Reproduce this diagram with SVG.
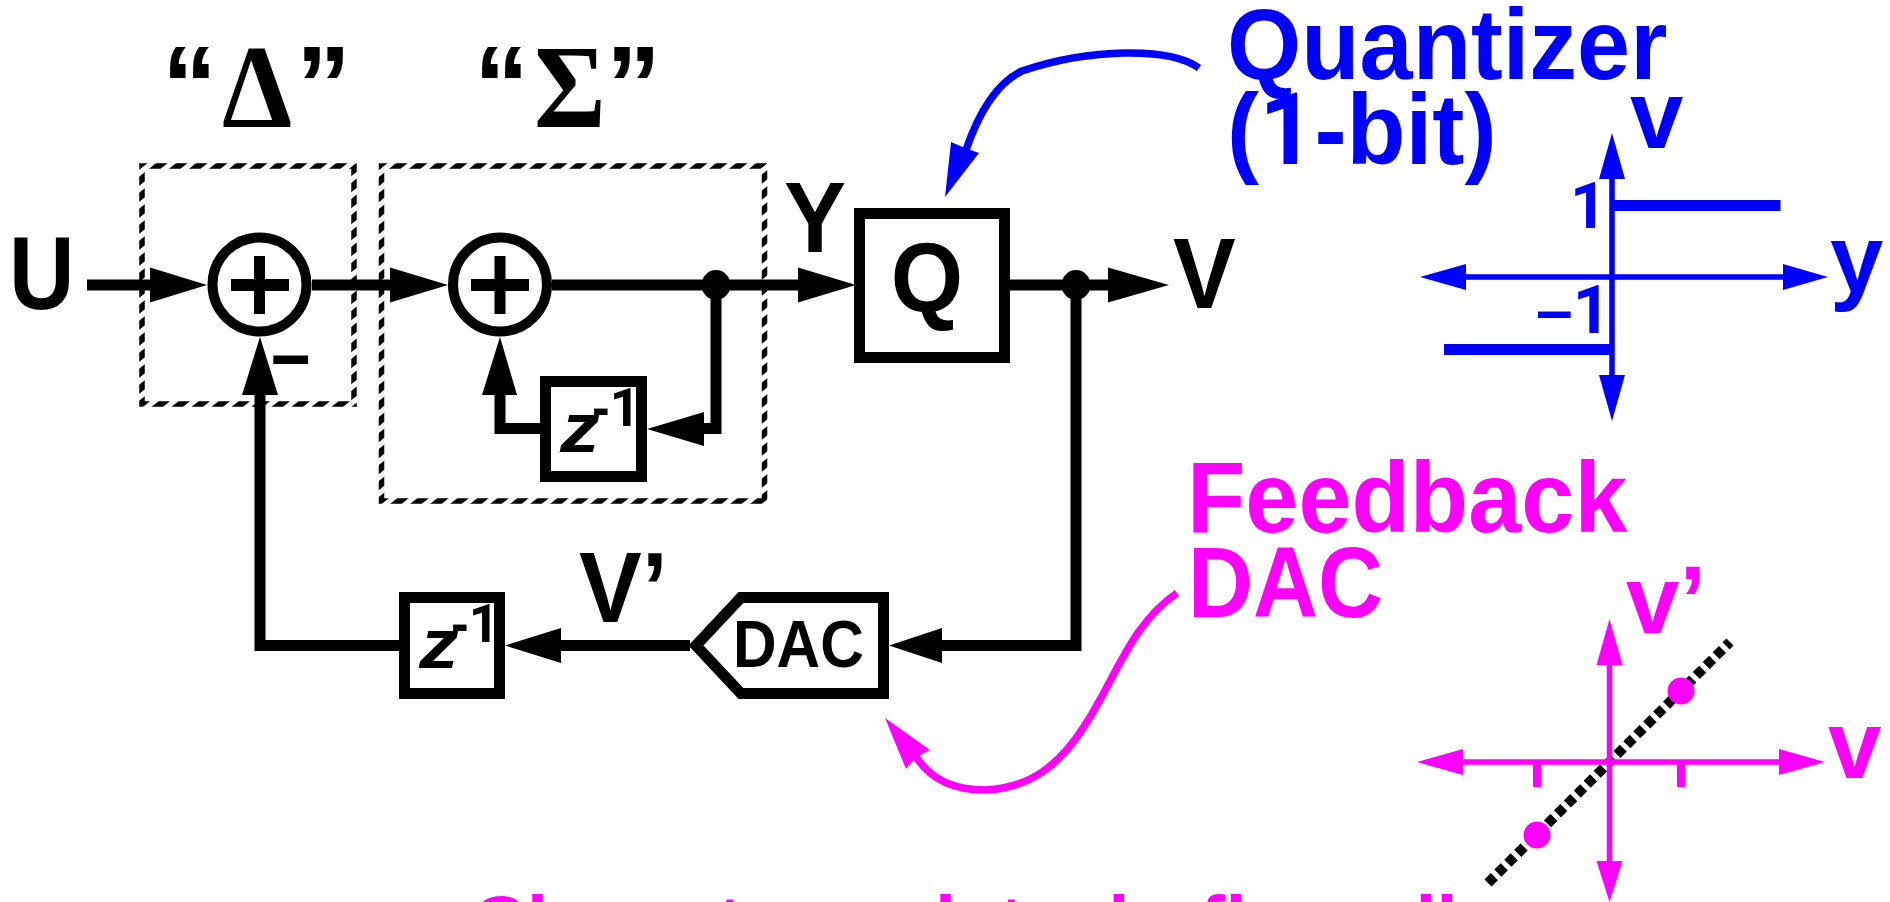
<svg xmlns="http://www.w3.org/2000/svg" width="1890" height="902" viewBox="0 0 1890 902">
<style>
text{font-family:"Liberation Sans",Arial,sans-serif;font-weight:700}
.k{fill:#000}.b{fill:#00f}.m{fill:#f0f}
.t{font-size:100px}
.q{font-size:110px}
.w{fill:none;stroke:#000;stroke-width:11}
.box{fill:#fff;stroke:#000;stroke-width:11}
.sum{fill:#fff;stroke:#000;stroke-width:10}
.hatch{fill:none;stroke:url(#hatch);stroke-width:5.500}
.ba{fill:none;stroke:#00f;stroke-width:5.5}
.ma{fill:none;stroke:#f0f;stroke-width:5.5}
.z{font-size:71px;font-style:italic}
.e{font-size:53px}
.one{font-family:Roboto,"Liberation Sans",sans-serif}
.sym{font-family:"Liberation Serif","DejaVu Serif",serif;font-size:118px}
</style>
<defs>
<pattern id="hatch" patternUnits="userSpaceOnUse" width="20" height="16">
<polygon points="0,0 11.500,0 -8.500,16 -20,16" fill="#000"/>
<polygon points="20,0 31.500,0 11.500,16 0,16" fill="#000"/>
</pattern>
</defs>
<rect width="1890" height="902" fill="#fff"/>

<g id="delta-block">
<rect class="hatch" x="142" y="166" width="212" height="238"/>
<text class="q k" x="162" y="123">“</text>
<text class="sym k" transform="translate(222,127) scale(.95,1)">Δ</text>
<text class="q k" x="296" y="123">”</text>
</g>
<g id="sigma-block">
<rect class="hatch" x="381.500" y="166" width="383" height="335"/>
<text class="q k" x="474" y="123">“</text>
<text class="sym k" transform="translate(534,127) scale(.93,1)">Σ</text>
<text class="q k" x="606" y="123">”</text>
</g>

<g id="connectors">
<path class="w" d="M87,285H150M312,285H390M552,285H798M1010,285H1108"/>
<path class="w" d="M716,285V428.500H704M540,428.500H500V394"/>
<path class="w" d="M1076,285V645.500H942M690,645.500H561M399,645.500H260V395"/>
<polygon class="k" points="150,267.500 207,285 150,302.500"/>
<polygon class="k" points="390,267.500 448,285 390,302.500"/>
<polygon class="k" points="798,267.500 856,285 798,302.500"/>
<polygon class="k" points="1108,267.500 1169,285 1108,302.500"/>
<polygon class="k" points="704,412 647,429 704,446"/>
<polygon class="k" points="482,395 500,337 517,395"/>
<polygon class="k" points="242,395 260,337 278,395"/>
<polygon class="k" points="942,628 889,645.500 942,663"/>
<polygon class="k" points="561,628 505,645.500 561,663"/>
<ellipse class="k" cx="716" cy="285" rx="14.500" ry="15"/>
<ellipse class="k" cx="1076" cy="285" rx="14.500" ry="15"/>
<path d="M1199,68C1170,47 1090,48 1022,71C995,84 978,115 966,150" fill="none" stroke="#00f" stroke-width="7.500"/>
<polygon class="b" points="945,197 951,142 965,148 979,153"/>
<path d="M1177,593C1130,625 1115,680 1085,725C1060,765 1030,788 985,790C955,790 930,780 915,755" fill="none" stroke="#f0f" stroke-width="7.500"/>
<polygon class="m" points="885,718 930,750 916,757 906,769"/>
</g>

<g id="input-U"><text class="k" font-size="103" transform="translate(9,309) scale(.88,1)">U</text></g>
<g id="sum1">
<circle class="sum" cx="259.500" cy="284.500" r="47"/>
<path class="k" d="M231,279H289V291H231ZM254,256H265V314H254Z"/>
<text class="k" font-size="72" transform="translate(268,378) scale(1.900,1)">-</text>
</g>
<g id="sum2">
<circle class="sum" cx="500" cy="284.500" r="47"/>
<path class="k" d="M471,279H529V291H471ZM494.500,256H505.500V314H494.500Z"/>
</g>
<g id="label-Y"><text class="t k" transform="translate(784,252) scale(.93,1)">Y</text></g>
<g id="quantizer">
<rect class="box" x="859.500" y="213.500" width="145" height="144"/>
<text class="k" font-size="98" text-anchor="middle" transform="translate(927,312) scale(.95,1)">Q</text>
</g>
<g id="output-V"><text class="t k" transform="translate(1173,308) scale(.94,1)">V</text></g>
<g id="delay1">
<rect class="box" x="545.500" y="381.500" width="96" height="95"/>
<text class="z k" transform="translate(560,452) scale(1.120,1)">z</text>
<text class="e k" x="592" y="426">-<tspan class="one">1</tspan></text>
</g>
<g id="delay2">
<rect class="box" x="404.500" y="597.500" width="95" height="96"/>
<text class="z k" transform="translate(419,668) scale(1.120,1)">z</text>
<text class="e k" x="451" y="642">-<tspan class="one">1</tspan></text>
</g>
<g id="dac">
<polygon class="box" points="883.500,597.500 741,597.500 696,645.500 741,693.500 883.500,693.500"/>
<text class="k" font-size="66" transform="translate(733,667) scale(.915,1)">DAC</text>
</g>
<g id="label-Vprime"><text class="t k" transform="translate(579,622) scale(.94,1)">V’</text></g>

<g id="quantizer-label">
<text class="t b" transform="translate(1227,79) scale(.955,1)">Quantizer</text>
<text class="t b" transform="translate(1227,164) scale(.965,1)">(<tspan class="one">1</tspan>-bit)</text>
</g>
<g id="quantizer-plot">
<path class="ba" d="M1612,175V380M1462,277H1787"/>
<polygon class="b" points="1612,133 1625,179 1599,179"/>
<polygon class="b" points="1612,421 1625,375 1599,375"/>
<polygon class="b" points="1420,277 1466,264 1466,290"/>
<polygon class="b" points="1828,277 1783,264 1783,290"/>
<rect class="b" x="1612" y="200" width="168.500" height="11"/>
<rect class="b" x="1444" y="344" width="168" height="11"/>
<text class="b one" font-size="64" x="1570" y="228">1</text>
<text class="b" font-size="66" x="1536" y="333">–<tspan class="one">1</tspan></text>
<text class="b" font-size="96" x="1630" y="148">v</text>
<text class="b" font-size="96" x="1830" y="292">y</text>
</g>

<g id="dac-label">
<text class="t m" transform="translate(1187,532) scale(.955,1)">Feedback</text>
<text class="t m" transform="translate(1188,617) scale(.9,1)">DAC</text>
</g>
<g id="dac-plot">
<line x1="1488" y1="883" x2="1730" y2="642" stroke="#000" stroke-width="10" stroke-dasharray="9 5"/>
<path class="ma" d="M1609.500,660V866M1458,762H1784"/>
<polygon class="m" points="1609.500,619 1622.500,665 1596.500,665"/>
<polygon class="m" points="1609.500,902 1622.500,861 1596.500,861"/>
<polygon class="m" points="1417,762 1463,749 1463,775"/>
<polygon class="m" points="1825,762 1779,749 1779,775"/>
<path d="M1537,762V787M1681,762V787" fill="none" stroke="#f0f" stroke-width="8"/>
<ellipse class="m" cx="1681" cy="691" rx="13.500" ry="13.500"/>
<ellipse class="m" cx="1537" cy="835" rx="13.500" ry="13.500"/>
<text class="m" font-size="96" x="1626" y="633">v’</text>
<text class="m" font-size="96" x="1828" y="778">v</text>
</g>
<g id="bottom-label">
<text class="m" font-size="76" y="949"><tspan x="472">Charge</tspan><tspan x="696"> to</tspan><tspan x="770"> regu</tspan><tspan x="935">late</tspan><tspan x="1083">d</tspan><tspan x="1179"> flow all</tspan></text>
</g>
</svg>
